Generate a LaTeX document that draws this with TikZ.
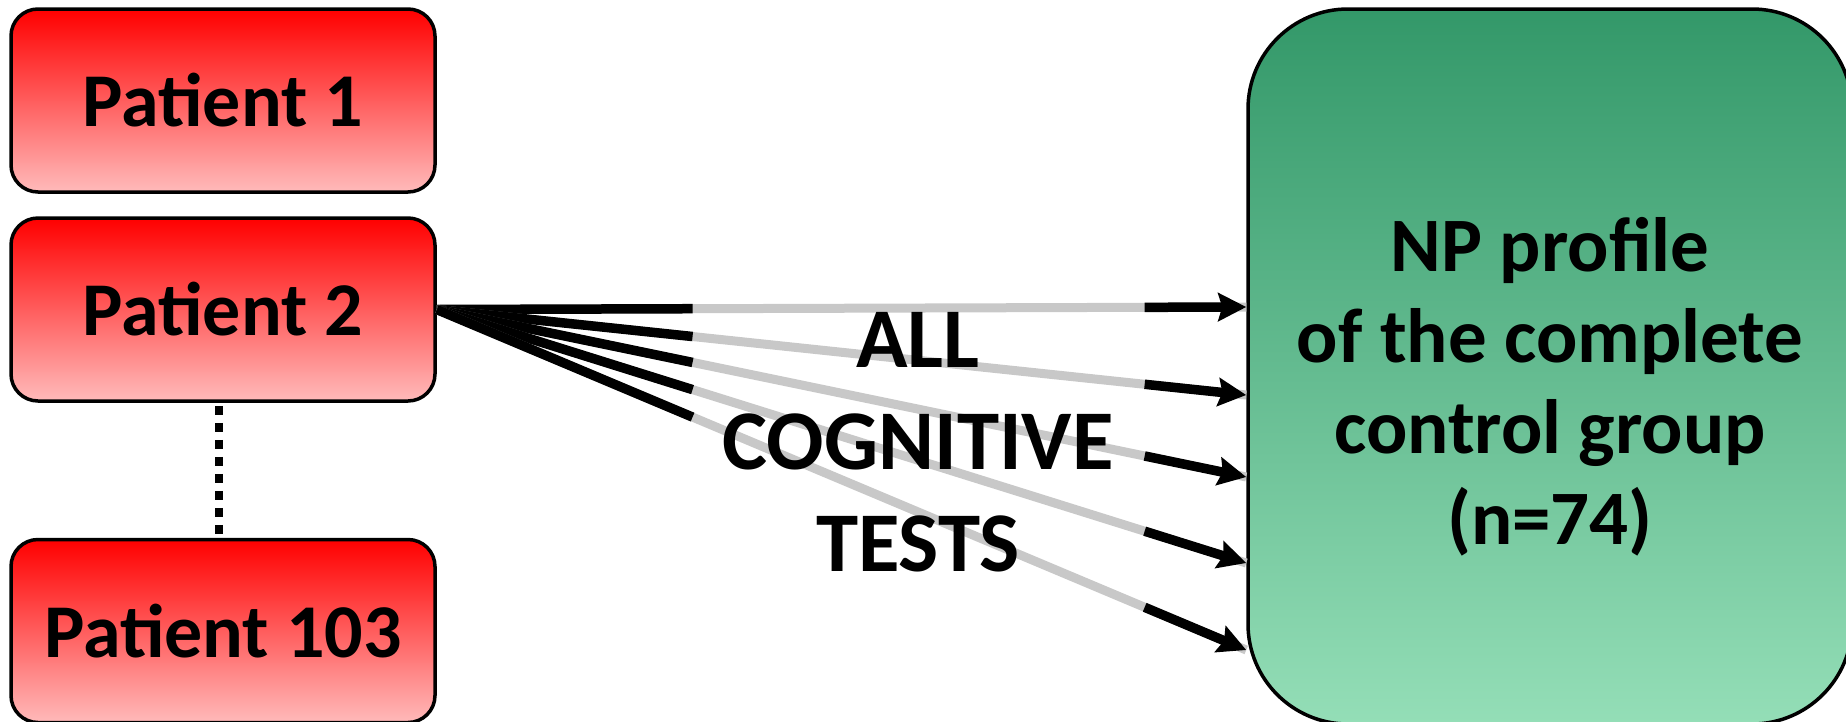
\documentclass[tikz,border=0pt]{standalone}
\usepackage{fontspec}
\setmainfont{Carlito}
\usetikzlibrary{calc}
\usetikzlibrary{arrows.meta}
\definecolor{patred}{HTML}{FF0000}
\definecolor{patpink}{HTML}{FFBABA}
\definecolor{ctrldark}{HTML}{339869}
\definecolor{ctrllight}{HTML}{94DEB7}
\definecolor{testgrey}{HTML}{C8C8C8}
\tikzset{
	patient/.style={draw, line width=3.5pt, rounded corners=27pt, inner sep=0pt,
		minimum width=424pt, minimum height=183pt,
		top color=patred, bottom color=patpink,
		font=\bfseries\fontsize{76}{88}\selectfont},
	control/.style={draw, line width=3.5pt, rounded corners=100pt, inner sep=0pt,
		minimum width=604pt, minimum height=715pt,
		top color=ctrldark, bottom color=ctrllight},
	bigtext/.style={align=center, inner sep=0pt},
	greyline/.style={testgrey, line width=9pt},
	blackline/.style={black, line width=9.5pt},
	>={Stealth[length=28pt, width=28pt, inset=4pt]}
}

\begin{document}
\begin{tikzpicture}[x=1pt, y=-1pt]
\useasboundingbox (0, 0) rectangle (1846, 721);

\node [patient] (p1) at (223, 100.5) {Patient 1};
\node [patient] (p2) at (223, 309.5) {Patient 2};
\node [patient] (p103) at (223, 631) {Patient 103};
\node [control] (np) at (1550, 366.5) {};
\node [bigtext, font=\bfseries\fontsize{77}{91}\selectfont] (nptext) at (1550, 387)
	{NP profile\\of the complete\\control group\\(n=74)};

	\draw [black, line width=8.5pt, dash pattern=on 9pt off 8pt]
		([xshift=-4pt, yshift=-3pt]p2.south) -- ([xshift=-4pt]p103.north);

\foreach \y [count=\i] in {307, 395, 477, 563, 650} {
	\coordinate (in\i) at (np.west |- 0, \y);
	\draw [greyline] (p2.east) -- (in\i);
	\draw [blackline] (p2.east) -- ($(p2.east)!0.316!(in\i)$);
	\draw [blackline, ->] ($(p2.east)!0.8745!(in\i)$) -- (in\i);
}

\node [bigtext, font=\bfseries\fontsize{85}{102}\selectfont] (tests) at (918, 442) {ALL\\COGNITIVE\\TESTS};
\end{tikzpicture}
\end{document}
